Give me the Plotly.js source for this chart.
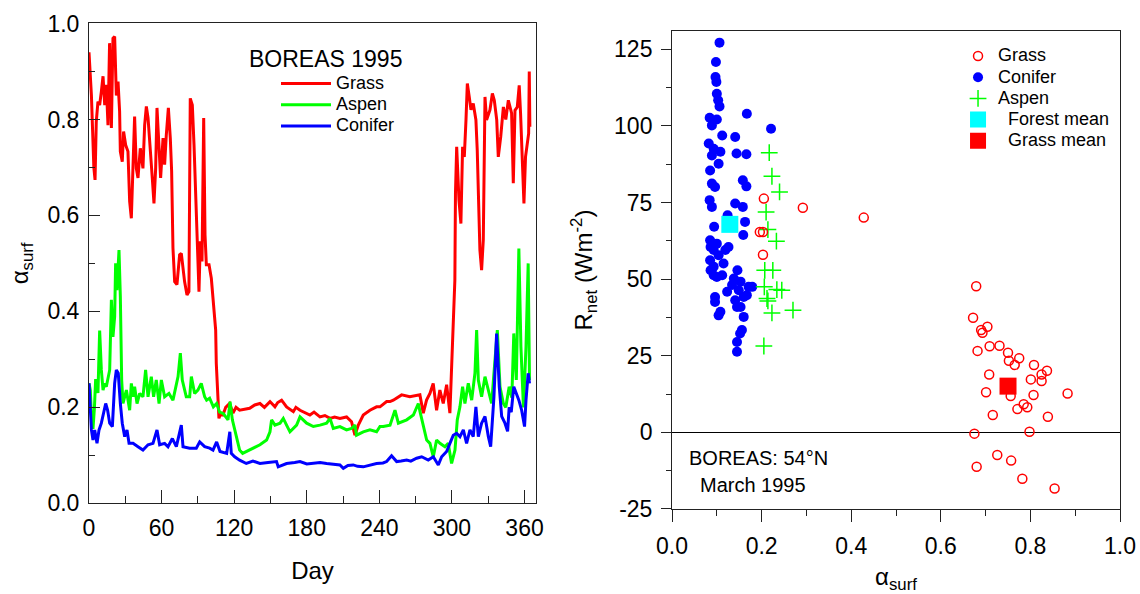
<!DOCTYPE html>
<html><head><meta charset="utf-8">
<script src="https://cdn.plot.ly/plotly-3.0.1.min.js"></script>
<style>html,body{margin:0;padding:0;background:#fff}#chart{width:1140px;height:594px}</style>
</head><body><div id="chart"></div>
<script>
// ---------- Left panel: daily surface albedo, BOREAS 1995 ----------
const dayGrass = [0,1,2,3,4,5,6,7.4,8.8,10.2,11.6,13,14.3,15.7,17,18.5,19.8,21.2,22.6,24,25.3,25.9,27.5,28.6,30.3,32.2,33.6,35,36.4,37.7,39.1,40.5,42.4,44.6,46,47.4,48.8,50.1,52.3,53.7,55.1,56.2,57.9,59.2,61.2,62.5,63.9,65.6,67.2,68.3,69.4,70.8,72.7,74.9,76.3,77.7,79,81,82.6,83.7,85.4,86.8,88.1,89.3,90.9,92,93.4,94.8,95.9,97,99.2,101.1,102.5,104.7,105.2,106.6,107.4,108.3,110.7,113,116.2,119,121.5,124.5,128,132.8,137,141.3,145,149.6,153.7,156,159.2,163.3,168.9,171,174.4,178,182.6,186,190.9,195,199.2,203,207.4,212.9,217,219.8,222.6,226.7,232.2,237.7,240.5,246,248.8,251.5,258.4,265.2,270,273.5,276.3,279,281.8,284.5,287.3,290,292.8,295.6,298.3,299.7,301,302.4,302.9,303.9,305.8,307.4,308.8,310.2,311.6,312.7,314.3,315.7,317.6,319.8,320.9,322.3,323.1,324.5,325.9,327.3,328.6,331.4,333.4,335,337,338.3,340.3,342.5,344.5,346.6,349.3,350.7,352.1,354,355.6,356.7,358.4,359.5,360.8,362.3,363.4,363.9,364.4];
const albGrass = [0.94,0.90,0.85,0.775,0.70,0.674,0.795,0.837,0.83,0.858,0.89,0.83,0.872,0.788,0.959,0.782,0.969,0.973,0.85,0.879,0.817,0.733,0.712,0.775,0.747,0.733,0.629,0.594,0.733,0.806,0.698,0.678,0.74,0.698,0.788,0.827,0.803,0.747,0.678,0.625,0.698,0.824,0.747,0.678,0.761,0.706,0.768,0.824,0.761,0.692,0.532,0.462,0.456,0.518,0.521,0.49,0.462,0.434,0.441,0.844,0.83,0.747,0.657,0.559,0.441,0.546,0.504,0.803,0.559,0.497,0.497,0.469,0.43,0.361,0.292,0.222,0.177,0.184,0.184,0.2,0.208,0.188,0.2,0.194,0.196,0.198,0.205,0.208,0.2,0.212,0.201,0.21,0.215,0.201,0.191,0.2,0.194,0.19,0.184,0.19,0.18,0.183,0.177,0.18,0.177,0.18,0.17,0.142,0.163,0.184,0.194,0.201,0.201,0.212,0.212,0.215,0.226,0.222,0.224,0.226,0.188,0.215,0.229,0.25,0.194,0.236,0.208,0.247,0.188,0.278,0.361,0.465,0.646,0.743,0.632,0.583,0.743,0.722,0.799,0.875,0.847,0.82,0.833,0.799,0.736,0.59,0.528,0.486,0.549,0.847,0.799,0.82,0.854,0.84,0.799,0.722,0.764,0.826,0.8,0.84,0.813,0.667,0.819,0.826,0.871,0.813,0.702,0.625,0.722,0.757,0.771,0.9,0.785];

const dayAspen = [0,1.1,2,3.3,4.5,5.5,7.4,8.8,10.2,11.6,12.9,14.3,17.1,18.5,19.8,21.2,22,23.1,24.8,25.9,27,28.1,30.9,33.6,35,36.4,37.7,39.7,41.9,44.6,46.8,48.8,51.5,53.4,55.6,57.9,59.8,62.5,66.1,69.4,73.6,75.5,77.1,80.4,83.2,84.6,87.3,90,92.8,95.6,97.2,99.7,102.8,105.5,108,111,114.9,116.6,118.5,120.4,122.3,124.5,127,130.3,135.8,141.3,146.8,149.6,150.9,153.7,157.9,160.6,163.3,166.1,171.6,174.4,179.9,185.4,190.9,196.4,199.2,201.9,207.4,212.9,217,219.8,221.1,226.7,232.2,237.7,240.5,243.2,248.8,252.9,255.7,262.6,268.1,272.2,273.6,276.3,279.1,281.8,284.6,287.3,290.1,294.2,296.9,299.7,302.5,304.4,306.6,308.8,310.7,313.5,316.3,319,320.4,321.8,324.5,327.3,330.1,332.8,334.7,337.5,339.7,342.5,344.5,347.3,349.5,351.1,353.2,355.3,357,359.1,361.2,363,364.1];
const albAspen = [0.25,0.236,0.181,0.155,0.2,0.259,0.23,0.36,0.278,0.236,0.25,0.243,0.278,0.424,0.347,0.389,0.5,0.444,0.528,0.431,0.257,0.208,0.236,0.194,0.25,0.222,0.243,0.208,0.229,0.222,0.278,0.222,0.264,0.222,0.257,0.208,0.257,0.222,0.229,0.215,0.264,0.313,0.257,0.222,0.222,0.264,0.229,0.236,0.25,0.222,0.215,0.219,0.201,0.208,0.19,0.187,0.174,0.212,0.174,0.153,0.132,0.111,0.104,0.108,0.115,0.122,0.132,0.149,0.174,0.163,0.167,0.177,0.163,0.149,0.163,0.18,0.167,0.16,0.163,0.167,0.177,0.156,0.16,0.153,0.156,0.163,0.142,0.149,0.153,0.149,0.16,0.16,0.163,0.194,0.167,0.174,0.184,0.208,0.191,0.16,0.132,0.125,0.097,0.132,0.125,0.118,0.125,0.083,0.111,0.174,0.201,0.243,0.208,0.25,0.215,0.271,0.361,0.257,0.222,0.264,0.236,0.208,0.271,0.361,0.243,0.208,0.2,0.243,0.22,0.354,0.257,0.531,0.326,0.2,0.326,0.5,0.257];

const dayConifer = [0,1,2,3.3,4.7,6.6,8.3,10.2,12.1,13.8,15.4,17.1,19.3,21.2,22.6,24.2,25.9,27.5,29.5,31.4,33.1,36.4,40.5,44.6,48.8,52.9,56.2,58.4,62.5,65.3,68.9,72.2,76.3,77.7,83.2,88.7,91.5,95.6,99.7,102.5,105.5,108.3,113.8,116.4,117.6,120.4,124.5,130,135.5,141.3,148,155,156.4,163.3,170,174.4,180,185.4,191,196.4,202,207.4,210.2,214,218.4,222,226.7,232.2,237.7,243,246,250.1,254.3,258,262.6,266,270.8,275,280.4,284.6,288.7,291.5,295.6,298.3,301.1,303.8,306.6,309.4,312.1,314.9,317.6,319.8,321.8,324.5,327.3,330.1,332,334.7,336.9,339.1,341.1,343.8,346,347.3,349,351.1,353.2,355.3,357.6,360,361.2,363,364.1];
const albConifer = [0.25,0.2,0.153,0.132,0.153,0.125,0.153,0.167,0.188,0.208,0.194,0.167,0.16,0.25,0.278,0.271,0.208,0.167,0.139,0.153,0.125,0.125,0.118,0.111,0.122,0.125,0.153,0.122,0.125,0.118,0.135,0.118,0.163,0.118,0.115,0.115,0.128,0.118,0.115,0.111,0.128,0.108,0.104,0.149,0.104,0.097,0.09,0.083,0.088,0.083,0.085,0.087,0.076,0.083,0.085,0.087,0.082,0.083,0.085,0.083,0.082,0.08,0.073,0.079,0.08,0.077,0.076,0.08,0.083,0.084,0.087,0.099,0.087,0.088,0.09,0.088,0.094,0.097,0.09,0.097,0.08,0.097,0.108,0.125,0.142,0.146,0.139,0.153,0.125,0.153,0.139,0.201,0.139,0.167,0.181,0.139,0.118,0.222,0.354,0.243,0.181,0.167,0.15,0.2,0.19,0.243,0.229,0.215,0.194,0.16,0.215,0.271,0.25];

const dayTicks = [0,60,120,180,240,300,360];

// ---------- Right panel: net radiation vs albedo, March 1995 ----------
const grassPtAlb = [0.205,0.292,0.196,0.203,0.203,0.428,0.679,0.672,0.704,0.690,0.693,0.682,0.709,0.731,0.750,0.752,0.775,0.765,0.808,0.825,0.837,0.708,0.801,0.825,0.701,0.756,0.807,0.883,0.785,0.793,0.771,0.716,0.839,0.798,0.675,0.726,0.757,0.680,0.782,0.854];
const grassPtRnet = [76.3,73.3,65.4,65.4,58.0,70.1,47.7,37.4,34.5,33.4,32.5,26.6,28.1,28.3,26.0,23.4,24.2,22.0,22.0,18.9,20.1,18.9,17.3,16.8,13.1,11.9,12.2,12.7,9.2,8.2,7.6,5.7,5.1,0.2,-0.4,-7.4,-9.2,-11.2,-15.1,-18.3];

const coniferPtAlb = [0.106,0.098,0.097,0.099,0.100,0.103,0.106,0.167,0.084,0.100,0.089,0.221,0.112,0.141,0.082,0.093,0.108,0.089,0.144,0.166,0.104,0.085,0.158,0.166,0.089,0.096,0.084,0.089,0.141,0.158,0.124,0.163,0.094,0.159,0.085,0.093,0.119,0.104,0.085,0.093,0.115,0.093,0.112,0.146,0.134,0.153,0.171,0.149,0.123,0.160,0.141,0.096,0.096,0.153,0.108,0.104,0.160,0.156,0.152,0.145,0.145,0.138,0.179,0.167,0.145,0.086,0.100,0.126,0.100,0.086];
const coniferPtRnet = [127.2,120.9,116,114.4,110.5,108.4,106.4,104,102.7,102.1,100.2,99.1,96.9,96.4,94.3,92.6,91.6,90.4,91,90.8,87.7,85.5,82.3,80.3,81.2,80.1,75.8,73.6,74.7,73.6,70.9,68.7,67.1,64.4,62.7,59.5,59.5,57.8,56.2,54.1,55.1,51.3,51.3,52.9,48.1,49.2,47.5,46.4,45.9,44.2,43.1,44.2,42.6,40.9,39.4,38.2,37.7,33.4,32.3,29.5,26.3,50.2,47.5,44.8,40.9,60.5,61.6,60.5,50.7,52.9];

const aspenPtAlb = [0.217,0.223,0.240,0.210,0.214,0.233,0.207,0.225,0.206,0.234,0.245,0.212,0.214,0.223,0.270,0.205];
const aspenPtRnet = [91.3,83.6,78.5,71.9,66.2,62.4,52.9,52.9,47.5,46.6,46.4,43.7,42.9,39.0,39.9,28.2];

const forestMeanAlb = [0.129], forestMeanRnet = [67.9];
const grassMeanAlb = [0.750], grassMeanRnet = [15.1];

const rnetTickVals = [-25,0,25,50,75,100,125];
const rnetTickText = ['-25','0','25','50','75','100','125'];
const rnetMinorVals = [-12.5,12.5,37.5,62.5,87.5,112.5];

const FONT = 'Liberation Sans, Arial, sans-serif';
const RED = '#ff0000', GREEN = '#00ff00', BLUE = '#0000ff', CYAN = '#00ffff';
const lg = s => '<span style="font-size:18px">' + s + '</span>';

const traces = [
  {x: dayGrass, y: albGrass, type:'scatter', mode:'lines', name:lg('Grass'), line:{color:RED, width:3}, xaxis:'x', yaxis:'y', legend:'legend2'},
  {x: dayAspen, y: albAspen, type:'scatter', mode:'lines', name:lg('Aspen'), line:{color:GREEN, width:3}, xaxis:'x', yaxis:'y', legend:'legend2'},
  {x: dayConifer, y: albConifer, type:'scatter', mode:'lines', name:lg('Conifer'), line:{color:BLUE, width:3}, xaxis:'x', yaxis:'y', legend:'legend2'},

  {x: coniferPtAlb, y: coniferPtRnet, type:'scatter', mode:'markers', name:lg('Conifer'), legendrank:2,
   marker:{symbol:'circle', size:10, color:BLUE, line:{width:0}}, xaxis:'x2', yaxis:'y2'},
  {x: aspenPtAlb, y: aspenPtRnet, type:'scatter', mode:'markers', name:lg('Aspen'), legendrank:3,
   marker:{symbol:'cross-thin-open', size:12, color:GREEN, line:{width:1.5, color:GREEN}}, xaxis:'x2', yaxis:'y2'},
  {x: grassPtAlb, y: grassPtRnet, type:'scatter', mode:'markers', name:lg('Grass'), legendrank:1,
   marker:{symbol:'circle-open', size:9, color:RED, line:{width:1.5, color:RED}}, xaxis:'x2', yaxis:'y2'},
  {x: forestMeanAlb, y: forestMeanRnet, type:'scatter', mode:'markers', name:lg('\u00a0\u00a0Forest mean'), legendrank:4,
   marker:{symbol:'square', size:17, color:CYAN, line:{width:0}}, xaxis:'x2', yaxis:'y2'},
  {x: grassMeanAlb, y: grassMeanRnet, type:'scatter', mode:'markers', name:lg('\u00a0\u00a0Grass mean'), legendrank:5,
   marker:{symbol:'square', size:17, color:RED, line:{width:0}}, xaxis:'x2', yaxis:'y2'}
];

const axCommon = {showgrid:false, zeroline:false, showline:true, mirror:true, linecolor:'#222', linewidth:1,
  tickcolor:'#222', tickwidth:1, tickfont:{family:FONT, size:23, color:'#000'}};

const layout = {
  width:1140, height:594,
  margin:{l:89, r:20, t:23, b:85},
  paper_bgcolor:'#fff', plot_bgcolor:'#fff',
  font:{family:FONT, color:'#000'},
  showlegend:true,
  xaxis: Object.assign({}, axCommon, {domain:[0,0.4336], range:[0,369.5], anchor:'y',
    tickmode:'linear', tick0:0, dtick:60, ticks:'inside', ticklen:13,
    minor:{dtick:30, tick0:0, ticks:'inside', ticklen:7, tickcolor:'#222'},
    ticklabelstandoff:4,
    title:{text:'Day', font:{family:FONT, size:24}, standoff:22}}),
  yaxis: Object.assign({}, axCommon, {domain:[0.0117,0.999], range:[0,1], anchor:'x',
    tickmode:'linear', tick0:0, dtick:0.2, tickformat:'.1f', ticks:'inside', ticklen:11,
    minor:{dtick:0.1, tick0:0, ticks:'inside', ticklen:6, tickcolor:'#222'},
    ticklabelstandoff:4,
    title:{text:'α<sub>surf</sub>', font:{family:FONT, size:24}, standoff:12}}),
  xaxis2: Object.assign({}, axCommon, {domain:[0.5655,1], range:[0,1], anchor:'y2',
    tickmode:'linear', tick0:0, dtick:0.2, tickformat:'.1f', ticks:'outside', ticklen:12,
    minor:{dtick:0.1, tick0:0, ticks:'outside', ticklen:6, tickcolor:'#222'},
    ticklabelstandoff:4,
    title:{text:'α<sub>surf</sub>', font:{family:FONT, size:24}, standoff:12}}),
  yaxis2: Object.assign({}, axCommon, {domain:[0,0.9835], range:[-25,131], anchor:'x2',
    tickmode:'array', tickvals:rnetTickVals, ticktext:rnetTickText, ticks:'outside', ticklen:10,
    minor:{tickmode:'array', tickvals:rnetMinorVals, ticks:'outside', ticklen:5, tickcolor:'#222'},
    zeroline:true, zerolinecolor:'#000', zerolinewidth:1,
    ticklabelstandoff:4,
    title:{text:'R<sub>net</sub> (Wm<sup>-2</sup>)', font:{family:FONT, size:24}, standoff:14}}),
  legend:{x:0.8429, y:0.9642, xanchor:'left', yanchor:'top', bgcolor:'rgba(0,0,0,0)',
    font:{family:FONT, size:14, color:'#000'}, traceorder:'normal', tracegroupgap:0},
  legend2:{x:(276-89)/1031, y:0.9074, xanchor:'left', yanchor:'top', bgcolor:'rgba(0,0,0,0)', itemwidth:50,
    font:{family:FONT, size:14, color:'#000'}, traceorder:'normal', tracegroupgap:0},
  annotations:[
    {text:'BOREAS 1995', xref:'paper', yref:'paper', x:(325-89)/1031, y:1-(59-23)/486, xanchor:'center', yanchor:'middle',
     showarrow:false, font:{family:FONT, size:23, color:'#000'}},
    {text:'BOREAS: 54°N', xref:'x2', yref:'y2', x:0.033, y:-8.25, xanchor:'left', yanchor:'middle',
     showarrow:false, font:{family:FONT, size:20, color:'#000'}},
    {text:'March 1995', xref:'x2', yref:'y2', x:0.058, y:-17.2, xanchor:'left', yanchor:'middle',
     showarrow:false, font:{family:FONT, size:20, color:'#000'}}
  ]
};

Plotly.newPlot('chart', traces, layout, {displayModeBar:false, staticPlot:true});
</script></body></html>
